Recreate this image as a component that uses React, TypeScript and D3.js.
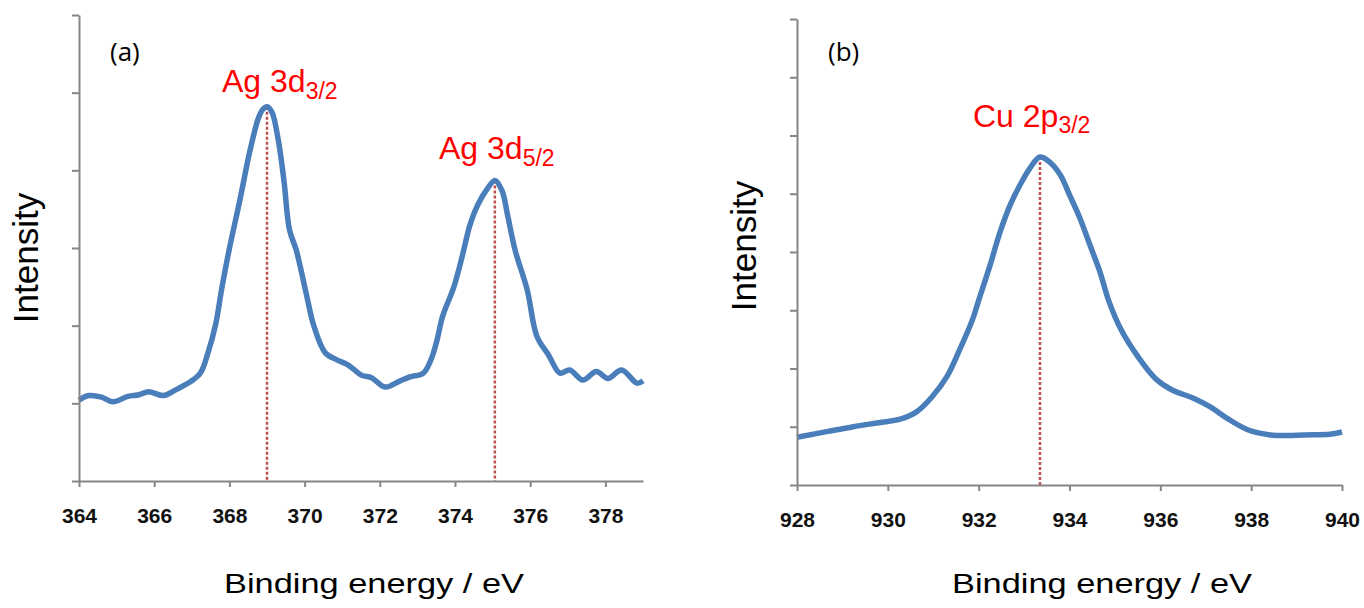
import React, { useEffect, useRef } from 'react';
import * as d3 from 'd3';

// panel (a): Ag 3d region
const agEnergy = [364.0, 364.26, 364.6, 364.9, 365.3, 365.6, 365.85, 366.25, 366.56, 366.97, 367.23, 367.43, 367.64, 367.79, 367.99, 368.28, 368.55, 368.77, 368.88, 369.0, 369.13, 369.3, 369.45, 369.6, 369.78, 370.04, 370.25, 370.55, 370.86, 371.17, 371.52, 371.78, 372.14, 372.5, 372.8, 373.16, 373.36, 373.52, 373.67, 373.97, 374.19, 374.4, 374.6, 374.87, 375.06, 375.25, 375.4, 375.6, 375.92, 376.18, 376.49, 376.79, 377.05, 377.4, 377.76, 378.07, 378.43, 378.84, 379.0];
const agIntensity = [1.04, 1.10, 1.08, 1.02, 1.09, 1.11, 1.15, 1.10, 1.17, 1.28, 1.39, 1.65, 2.03, 2.46, 2.97, 3.62, 4.26, 4.67, 4.78, 4.82, 4.75, 4.39, 3.87, 3.23, 2.97, 2.42, 1.99, 1.65, 1.56, 1.49, 1.36, 1.33, 1.21, 1.28, 1.34, 1.39, 1.56, 1.81, 2.12, 2.50, 2.89, 3.30, 3.55, 3.77, 3.87, 3.74, 3.42, 2.97, 2.46, 1.86, 1.62, 1.39, 1.43, 1.30, 1.41, 1.32, 1.43, 1.26, 1.29];
const agTicks = [364, 366, 368, 370, 372, 374, 376, 378];
const agPeaks = [369.0, 375.06];

// panel (b): Cu 2p3/2 region
const cuEnergy = [928.0, 928.68, 929.24, 929.8, 930.27, 930.64, 930.97, 931.3, 931.58, 931.86, 932.0, 932.25, 932.47, 932.69, 932.91, 933.13, 933.35, 933.57, 933.8, 934.0, 934.23, 934.45, 934.67, 934.86, 935.14, 935.51, 935.89, 936.26, 936.73, 937.1, 937.48, 937.95, 938.42, 938.8, 939.17, 939.73, 940.0];
const cuIntensity = [0.82, 0.92, 1.00, 1.07, 1.13, 1.26, 1.51, 1.86, 2.32, 2.83, 3.17, 3.77, 4.34, 4.80, 5.15, 5.44, 5.63, 5.54, 5.32, 4.98, 4.58, 4.12, 3.66, 3.17, 2.66, 2.20, 1.83, 1.63, 1.49, 1.34, 1.14, 0.94, 0.86, 0.85, 0.86, 0.87, 0.91];
const cuTicks = [928, 930, 932, 934, 936, 938, 940];
const cuPeaks = [933.35];

const LINE = '#4a7ebb';
const AXIS = '#868686';
const RED = '#ff0000';
const DASH = '#c0504d';

const Panel = ({ energy, intensity, xDomain, xTicks, yMax, left, right, top, bottom, peaks, tag, labels, yTitleY, xTitleX }) => {
  const xRef = useRef(null);
  const yRef = useRef(null);

  const x = d3.scaleLinear().domain(xDomain).range([left, right]);
  const y = d3.scaleLinear().domain([0, yMax]).range([bottom, top]);

  useEffect(() => {
    const xAxis = d3.axisBottom(x).tickValues(xTicks).tickSize(6).tickSizeOuter(0).tickPadding(21);
    const gx = d3.select(xRef.current).call(xAxis);
    gx.select('.domain').attr('stroke', AXIS).attr('stroke-width', 2);
    gx.selectAll('.tick line').attr('stroke', AXIS).attr('stroke-width', 2);
    gx.selectAll('.tick text')
      .attr('fill', '#111')
      .style('font-family', '"Liberation Sans", Arial, sans-serif')
      .style('font-weight', 'bold')
      .style('font-size', '21px');

    const yAxis = d3.axisLeft(y).ticks(yMax).tickSize(7).tickSizeOuter(0).tickFormat(() => '');
    const gy = d3.select(yRef.current).call(yAxis);
    gy.select('.domain').attr('stroke', AXIS).attr('stroke-width', 2);
    gy.selectAll('.tick line').attr('stroke', AXIS).attr('stroke-width', 2);
  });

  const line = d3.line()
    .x((d) => x(d[0]))
    .y((d) => y(d[1]))
    .curve(d3.curveCatmullRom.alpha(0.5));
  const pts = energy.map((e, i) => [e, intensity[i]]);
  const peakY = (p) => {
    const i = d3.bisector((d) => d).left(energy, p);
    return intensity[Math.min(i, energy.length - 1)];
  };

  return (
    <g>
      {peaks.map((p) => (
        <line key={p} x1={x(p)} x2={x(p)} y1={y(peakY(p))} y2={bottom}
          stroke={DASH} strokeWidth={2.5} strokeDasharray="3,2" />
      ))}
      <path d={line(pts)} fill="none" stroke={LINE} strokeWidth={5.5} strokeLinejoin="round" />
      <g ref={yRef} transform={`translate(${left},0)`} />
      <g ref={xRef} transform={`translate(0,${bottom})`} />
      <text x={left + 31} y={61} fontSize={26} fill="#000"
        fontFamily="'Open Sans', 'Liberation Sans', sans-serif">{tag}</text>
      {labels.map((l) => (
        <text key={l.main} x={l.x} y={l.y} fill={RED} fontSize={32}
          fontFamily="'Liberation Sans', Arial, sans-serif">
          {l.main}
          <tspan fontSize={23} dy={l.dy}>{l.sub}</tspan>
        </text>
      ))}
      <text transform={`translate(${left - 41},${yTitleY}) rotate(-90)`}
        textAnchor="middle" fontSize={35} fill="#000"
        fontFamily="'Liberation Sans', Arial, sans-serif">Intensity</text>
      <text x={xTitleX} y={593} fontSize={28} fill="#000" textLength={300} lengthAdjust="spacingAndGlyphs"
        fontFamily="'Liberation Sans', Arial, sans-serif">Binding energy / eV</text>
    </g>
  );
};

export default function App() {
  return (
    <svg width={1364} height={608} style={{ position: 'absolute', left: 0, top: 0, background: '#fff' }}>
      <Panel energy={agEnergy} intensity={agIntensity} xDomain={[364, 379]} xTicks={agTicks} yMax={6}
        left={79} right={643} top={15} bottom={481} peaks={agPeaks} tag="(a)" yTitleY={258} xTitleX={224}
        labels={[{ main: 'Ag 3d', sub: '3/2', x: 222, y: 92, dy: 7 }, { main: 'Ag 3d', sub: '5/2', x: 439, y: 159, dy: 7 }]} />
      <Panel energy={cuEnergy} intensity={cuIntensity} xDomain={[928, 940]} xTicks={cuTicks} yMax={8}
        left={797} right={1342} top={19} bottom={485} peaks={cuPeaks} tag="(b)" yTitleY={246} xTitleX={952}
        labels={[{ main: 'Cu 2p', sub: '3/2', x: 973, y: 127, dy: 6 }]} />
    </svg>
  );
}
